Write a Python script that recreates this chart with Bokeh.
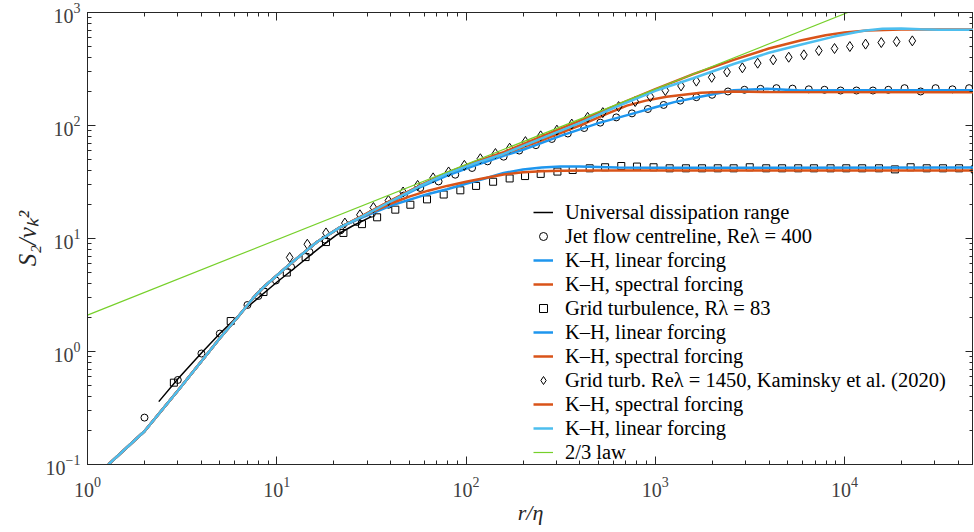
from bokeh.plotting import figure
from bokeh.models import LogAxis, LogTicker, Legend, LegendItem, CustomJSTickFormatter
from bokeh.embed import file_html
from bokeh.resources import INLINE

# ---------------- data ----------------
# Universal dissipation range
udr_r = [2.38, 3.0, 4.0, 5.02, 6.95, 10.0, 12.3, 17.0, 20.8, 25.1, 31.6]
udr_s = [0.36, 0.57, 0.97, 1.45, 2.45, 4.1, 5.4, 8.4, 10.8, 12.9, 15.6]

# Jet flow centreline, Re_lambda = 400
jet_r = [2.0, 3.0, 4.0, 5.0, 7.0, 8.0, 9.9, 11.9, 14.9, 17.9, 21.7, 26.5, 31.8, 39.0,
         46.9, 57.3, 71.6, 87.7, 107.6, 130, 158, 191, 234, 284, 345, 421, 512, 622,
         753, 914, 1107, 1355, 1648, 1995, 2421, 2958, 3597, 4365, 5309, 6471, 7834,
         9528, 11560, 14125, 17022, 20749, 25235, 30269, 37154, 45499]
jet_s = [0.26, 0.56, 0.96, 1.44, 2.58, 3.1, 4.25, 5.6, 7.6, 9.8, 11.8, 14.0, 16.6, 19.9,
         24, 28, 32, 36.7, 42.1, 48.2, 53, 60, 67, 76, 85, 95, 106, 118,
         128, 140, 152, 166, 178, 187, 200, 207, 211, 214, 212, 209, 207,
         204, 204, 204, 207, 214, 200, 214, 209, 214]

# Grid turbulence, R_lambda = 83
grid_r = [2.86, 5.71, 8.51, 11.3, 14.2, 18.2, 22.5, 28.2, 33.9, 42.3, 50.8, 62.2, 76.2,
          93.3, 113, 139, 170, 205, 248, 304, 366, 450, 543, 661, 800, 979, 1191, 1452,
          1766, 2138, 2594, 3155, 3855, 4677, 5689, 6887, 8433, 10209, 12388, 15205,
          18450, 22336, 27164, 33113, 40272, 48753]
grid_s = [0.53, 1.86, 3.36, 5.0, 6.85, 9.3, 11.2, 13.4, 15.4, 18.0, 19.9, 22.2, 24.5,
          26.7, 29.2, 31.8, 34.0, 35.7, 37.3, 39.1, 40.4, 41.8, 42.7, 43.8, 43.3, 42.7,
          41.8, 41.8, 41.8, 41.8, 41.8, 42.7, 41.8, 41.8, 41.8, 41.8, 41.8, 41.8, 41.8,
          41.8, 40.9, 42.7, 41.8, 41.8, 41.8, 40.9]

# Grid turb. Re_lambda = 1450, Kaminsky et al. (2020)
kam_r = [11.7, 14.5, 18.2, 22.9, 27.5, 32.4, 38.9, 46.5, 55.5, 67.0, 80.9, 98, 119, 143,
         170, 206, 248, 302, 362, 439, 528, 640, 783, 942, 1130, 1368, 1648, 1986, 2393,
         2884, 3475, 4198, 5070, 6095, 7311, 8851, 10666, 12912, 15631, 18836, 22803]
kam_s = [6.8, 8.9, 11.2, 13.7, 16.2, 18.8, 21.7, 25.8, 29.5, 34.4, 38.8, 44.4, 50.8, 56.5,
         63, 72, 81, 91, 103, 118, 130, 147, 163, 180, 204, 224, 247, 267, 298,
         324, 356, 381, 402, 422, 460, 480, 500, 525, 542, 553, 561]

# K-H model curves: shared small-scale part, then each curve's own branch
kh_common_r = [1.29, 2.0, 3.0, 4.0, 5.0, 6.2, 7.6, 8.5, 11.8, 16.3, 21.7]
kh_common_s = [0.1, 0.197, 0.45, 0.82, 1.31, 2.0, 3.05, 3.7, 5.97, 9.3, 12.6]

jet_lin_r = [28.2, 39.8, 56.2, 79.4, 112, 158, 200, 316, 501, 794, 1000, 1259, 1730,
             2594, 3890, 5848, 10000, 48978]
jet_lin_s = [15.5, 21, 28, 36, 44.5, 54, 61, 81, 105, 130, 145, 161, 180,
             205, 211, 204, 205, 205]

jet_spec_r = [28.2, 39.8, 56.2, 79.4, 112, 158, 251, 398, 562, 708, 891, 1148, 1738,
              2570, 3981, 48978]
jet_spec_s = [15.8, 21.5, 29, 38, 47, 56, 74, 100, 128, 150, 166, 180, 195,
              200, 198, 197]

grid_lin_r = [28.2, 39.8, 63.1, 79.4, 100, 126, 158, 200, 251, 316, 398, 501, 631,
              1000, 48978]
grid_lin_s = [15.3, 19.5, 24.8, 27.3, 30.5, 34, 38, 40.8, 42.5, 43.3, 43.4, 42.9, 42.4,
              42.3, 42.5]

grid_spec_r = [28.2, 39.8, 50.1, 63.1, 79.4, 100, 126, 158, 200, 251, 316, 501, 48978]
grid_spec_s = [15.6, 20.3, 23.5, 26.5, 29.2, 31.8, 34.3, 36.8, 38.5, 39.3, 39.8, 40, 40]

kam_spec_r = [28.2, 39.8, 56.2, 79.4, 112, 158, 251, 398, 631, 1000, 1585, 2594, 3981,
              5848, 7943, 10000, 13183, 19953, 48978]
kam_spec_s = [15.8, 21.5, 29, 38, 47.5, 58, 80, 110, 152, 210, 285, 381, 480,
              565, 630, 665, 692, 708, 706]

kam_lin_r = [28.2, 39.8, 56.2, 79.4, 112, 158, 251, 398, 631, 1000, 1585, 2594, 3981,
             5848, 8790, 12589, 15849, 19953, 25119, 31623, 48978]
kam_lin_s = [15.6, 21.2, 28.7, 37.5, 46.5, 56, 77, 105, 148, 203, 262, 350, 440,
             518, 612, 690, 718, 722, 712, 703, 705]

# 2/3 law (end points)
law_r = [1.0, 10400]
law_s = [2.1, 1000]

labels = ["Universal dissipation range",
          "Jet flow centreline, Reλ = 400",
          "K–H, linear forcing",
          "K–H, spectral forcing",
          "Grid turbulence, Rλ = 83",
          "K–H, linear forcing",
          "K–H, spectral forcing",
          "Grid turb. Reλ = 1450, Kaminsky et al. (2020)",
          "K–H, spectral forcing",
          "K–H, linear forcing",
          "2/3 law"]

# ---------------- styles ----------------
BLUE = "#1E96EE"
LBLUE = "#4DBEEE"
ORANGE = "#D95319"
GREEN = "#76D02A"
AX = "#262626"
FONT = "Liberation Serif"

p = figure(width=973, height=531, x_axis_type="log", y_axis_type="log",
           x_range=(1, 4.8e4), y_range=(0.1, 1000),
           output_backend="svg", toolbar_location=None,
           min_border_left=87, min_border_right=0, min_border_top=12,
           min_border_bottom=67)
p.grid.visible = False
p.outline_line_color = AX
p.background_fill_color = "white"
p.border_fill_color = "white"


def style_axis(ax, show_labels=True):
    ax.ticker = LogTicker(num_minor_ticks=10)
    ax.axis_line_color = AX
    ax.major_tick_line_color = AX
    ax.minor_tick_line_color = AX
    ax.major_tick_in = 8
    ax.major_tick_out = 0
    ax.minor_tick_in = 4
    ax.minor_tick_out = 0
    if show_labels:
        ax.major_label_text_font = FONT
        ax.major_label_text_font_size = "20px"
        ax.major_label_text_color = "#404040"
    else:
        ax.formatter = CustomJSTickFormatter(code="return ''")
        ax.major_label_text_font_size = "1px"
        ax.major_label_standoff = 0


style_axis(p.xaxis[0])
style_axis(p.yaxis[0])
p.xaxis.major_label_standoff = 12
p.yaxis.major_label_standoff = 7
p.xaxis.axis_label = "r/η"
p.yaxis.axis_label = "S₂/vₖ²"
for ax in (p.xaxis[0], p.yaxis[0]):
    ax.axis_label_text_font = FONT
    ax.axis_label_text_font_style = "italic"
    ax.axis_label_text_color = AX
p.xaxis.axis_label_text_font_size = "22px"
p.yaxis.axis_label_text_font_size = "25px"
p.xaxis.axis_label_standoff = 0
p.yaxis.axis_label_standoff = 2

top = LogAxis()
right = LogAxis()
style_axis(top, False)
style_axis(right, False)
p.add_layout(top, "above")
p.add_layout(right, "right")

# ---------------- glyphs ----------------
r_udr = p.line(udr_r, udr_s, line_color="black", line_width=1.5)
r_jet = p.scatter(jet_r, jet_s, marker="circle", size=7, fill_color=None,
                  line_color="black", line_width=1)
r_jl = p.line(kh_common_r + jet_lin_r, kh_common_s + jet_lin_s, line_color=BLUE, line_width=2.5)
r_js = p.line(kh_common_r + jet_spec_r, kh_common_s + jet_spec_s, line_color=ORANGE, line_width=2.5)
r_grid = p.scatter(grid_r, grid_s, marker="square", size=7, fill_color=None,
                   line_color="black", line_width=1)
r_gl = p.line(kh_common_r + grid_lin_r, kh_common_s + grid_lin_s, line_color=BLUE, line_width=2.5)
r_gs = p.line(kh_common_r + grid_spec_r, kh_common_s + grid_spec_s, line_color=ORANGE, line_width=2.5)
r_kam = p.scatter(kam_r, kam_s, marker="diamond", size=10, fill_color=None,
                  line_color="black", line_width=1)
r_ks = p.line(kh_common_r + kam_spec_r, kh_common_s + kam_spec_s, line_color=ORANGE, line_width=2.5)
r_kl = p.line(kh_common_r + kam_lin_r, kh_common_s + kam_lin_s, line_color=LBLUE, line_width=2.5)
r_law = p.line(law_r, law_s, line_color=GREEN, line_width=1.2)

rends = [r_udr, r_jet, r_jl, r_js, r_grid, r_gl, r_gs, r_kam, r_ks, r_kl, r_law]
items = [LegendItem(label=lab, renderers=[rr]) for lab, rr in zip(labels, rends)]
legend = Legend(items=items, location=(446, 0),
                label_text_font=FONT, label_text_font_size="20.5px",
                label_text_color="black",
                glyph_width=20, glyph_height=24, label_height=24,
                label_standoff=12, spacing=0, padding=0, margin=0,
                border_line_alpha=0, background_fill_alpha=0)
p.add_layout(legend)

open("out.html", "w").write(file_html(p, INLINE))
